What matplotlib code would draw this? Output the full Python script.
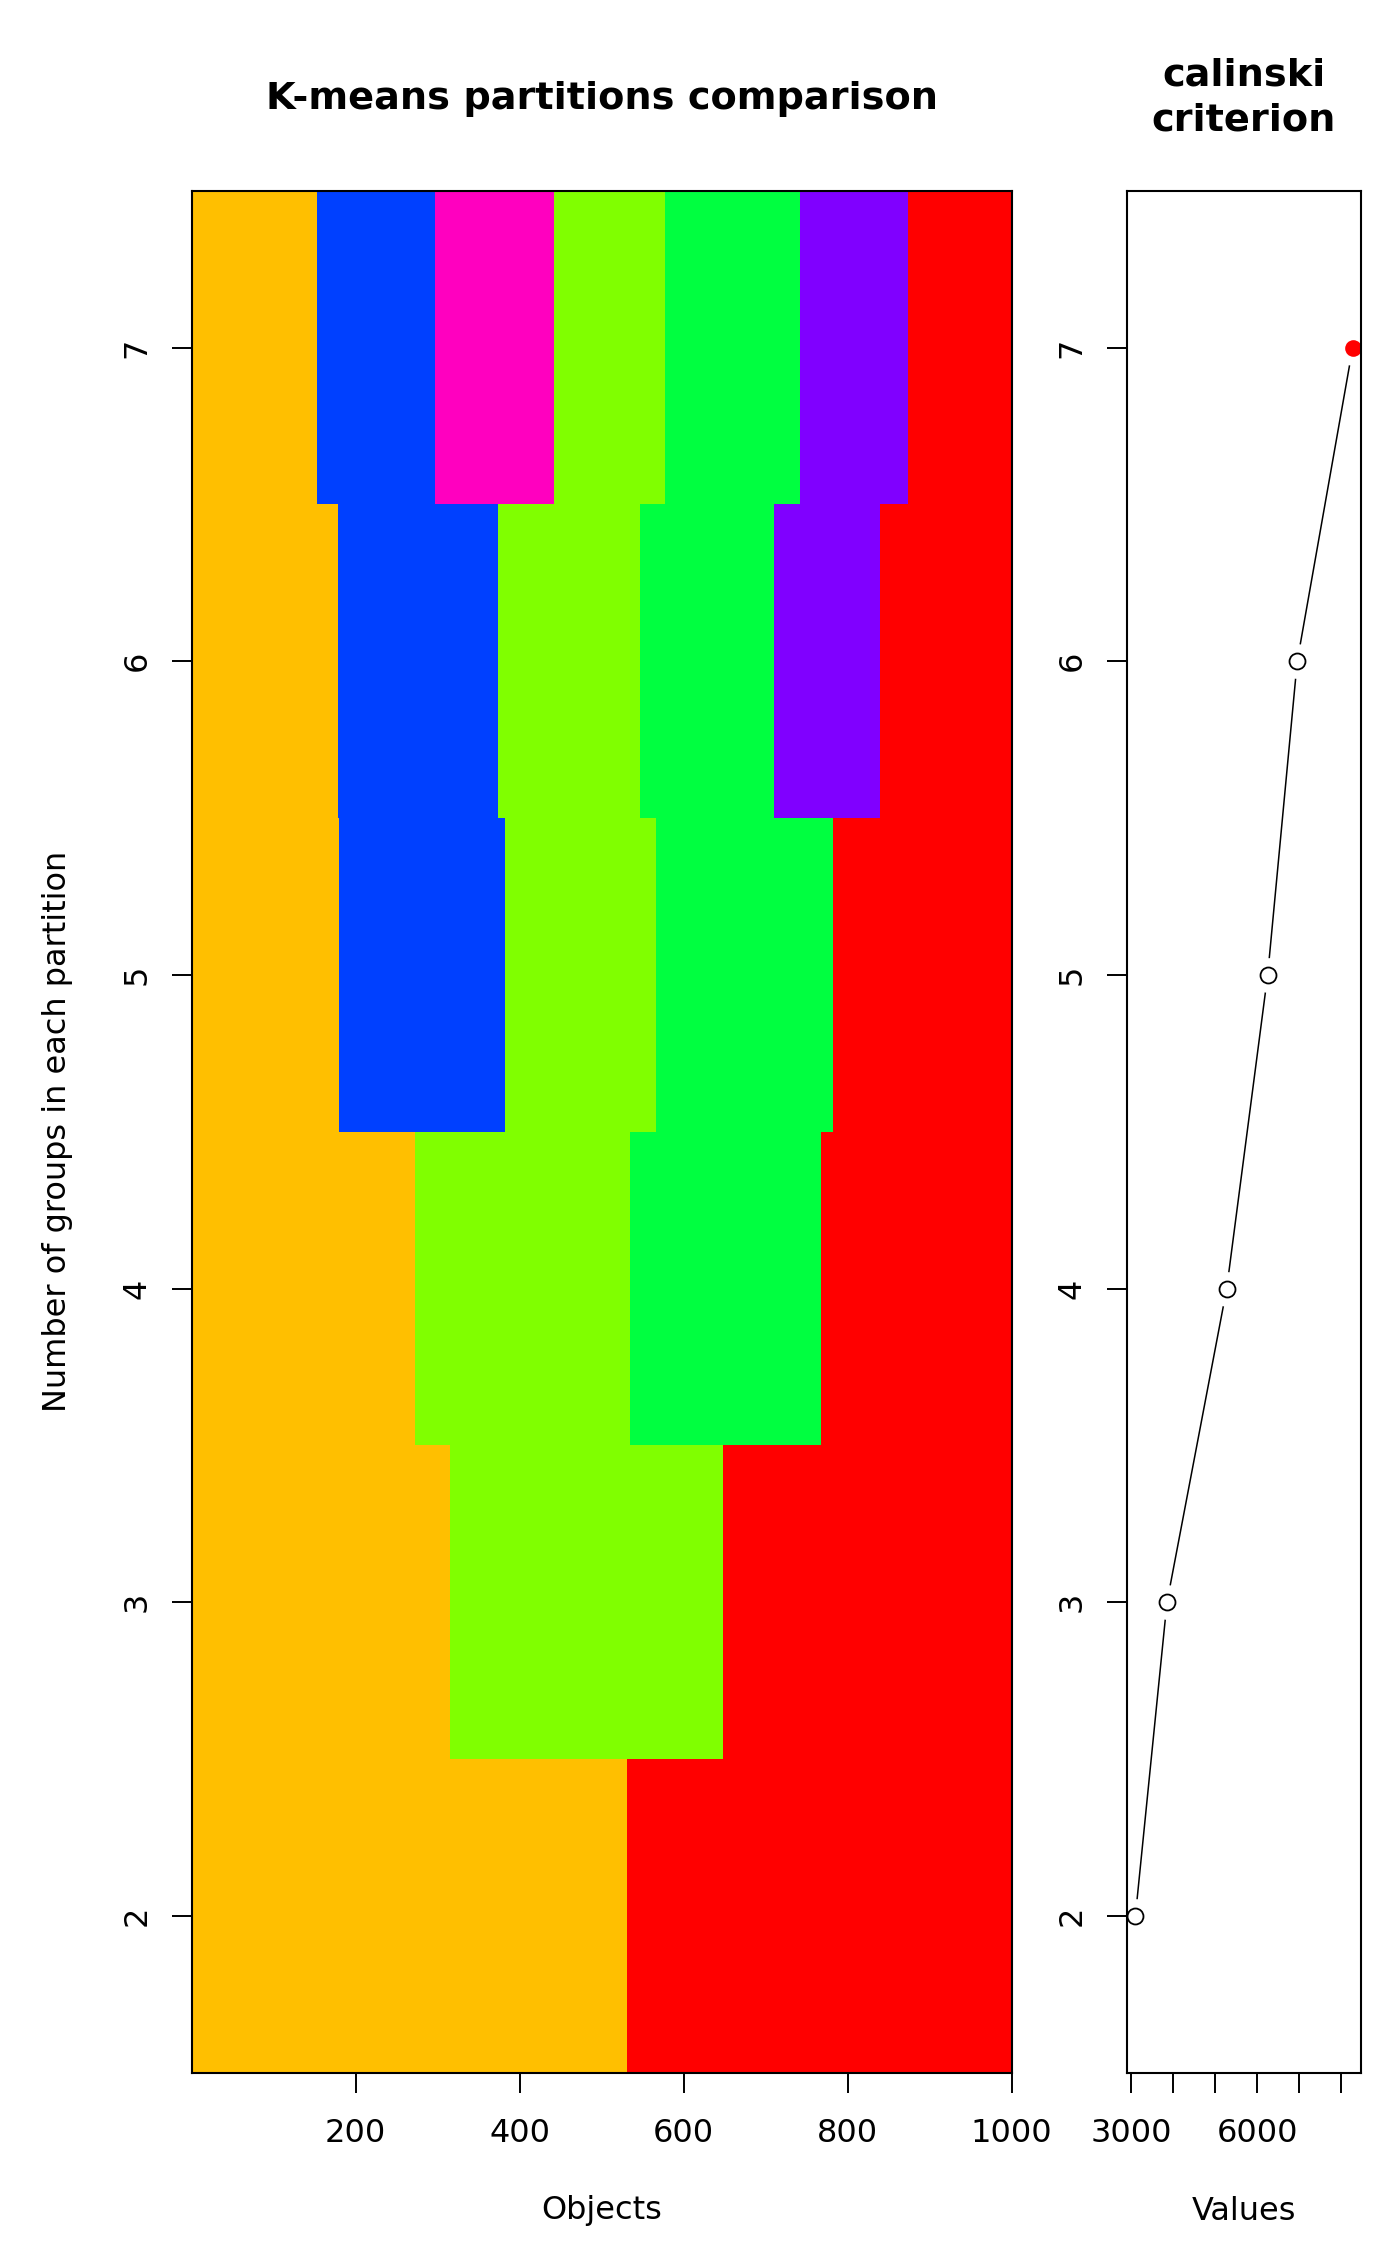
import matplotlib
matplotlib.use("Agg")
import matplotlib.pyplot as plt

plt.rcParams['font.family'] = ['DejaVu Sans']

# partitions: number of groups and the size of each group (left to right)
n_groups = [2, 3, 4, 5, 6, 7]
group_sizes = [
    [531, 469],
    [315, 333, 352],
    [272, 262, 233, 233],
    [179, 203, 184, 216, 218],
    [178, 195, 174, 163, 129, 161],
    [153, 143, 145, 136, 165, 131, 127],
]
group_colors = [
    ['#FFBF00', '#FF0000'],
    ['#FFBF00', '#80FF00', '#FF0000'],
    ['#FFBF00', '#80FF00', '#00FF40', '#FF0000'],
    ['#FFBF00', '#0040FF', '#80FF00', '#00FF40', '#FF0000'],
    ['#FFBF00', '#0040FF', '#80FF00', '#00FF40', '#8000FF', '#FF0000'],
    ['#FFBF00', '#0040FF', '#FF00BF', '#80FF00', '#00FF40', '#8000FF', '#FF0000'],
]
n_objects = 1000

# calinski criterion per partition
calinski = [3099, 3852, 5275, 6252, 6957, 8278]
value_ticks = [3000, 4000, 5000, 6000, 7000, 8000]
value_labels = ['3000', '', '', '6000', '', '']

fig = plt.figure(figsize=(14, 22.66), dpi=100)
ax1 = fig.add_axes([0.1371, 0.0853, 0.5857, 0.8305])
ax2 = fig.add_axes([0.8048, 0.0853, 0.1676, 0.8305])

tick_size = 23
title_size = 27.5

# left panel: one row of bars per partition
for k, sizes, cols in zip(n_groups, group_sizes, group_colors):
    start = 0.5
    for s, c in zip(sizes, cols):
        ax1.barh(k, s, left=start, height=1.0, color=c, edgecolor='none', linewidth=0)
        start += s

ax1.set_xlim(0.5, n_objects + 0.5)
ax1.set_ylim(1.5, 7.5)
ax1.set_xticks([200, 400, 600, 800, 1000])
ax1.set_yticks(n_groups)

# right panel: criterion values, best one in red
ax2.plot(calinski, n_groups, color='black', lw=1.1, zorder=2)
ax2.plot(calinski, n_groups, 'o', color='white', ms=25, mec='none', zorder=2.1)
ax2.plot(calinski[:-1], n_groups[:-1], 'o', mfc='white', mec='black', mew=1.3, ms=11.5, zorder=3)
best = calinski.index(max(calinski))
ax2.plot(calinski[best], n_groups[best], 'o', color='red', ms=12, mec='none', zorder=3)
ax2.margins(x=0.04)
ax2.set_ylim(1.5, 7.5)
ax2.set_yticks(n_groups)
ax2.set_xticks(value_ticks)
ax2.set_xticklabels(value_labels)

for ax in (ax1, ax2):
    for sp in ax.spines.values():
        sp.set_linewidth(1.5)
        sp.set_zorder(5)
    ax.tick_params(direction='out', length=14.4, width=1.4, labelsize=tick_size)
    ax.tick_params(axis='x', pad=18)
    ax.tick_params(axis='y', labelrotation=90, pad=14)
    for lab in ax.get_yticklabels():
        lab.set_verticalalignment('center')

fig.text(0.4299, 1 - 99 / 2266, 'K-means partitions comparison', ha='center', va='center',
         fontsize=title_size, fontweight='bold')
fig.text(0.8886, 1 - 98 / 2266, 'calinski\ncriterion', ha='center', va='center',
         fontsize=title_size, fontweight='bold', linespacing=1.3)
fig.text(0.4299, 1 - 2211 / 2266, 'Objects', ha='center', va='center', fontsize=tick_size)
fig.text(0.8886, 1 - 2211 / 2266, 'Values', ha='center', va='center', fontsize=tick_size)
fig.text(58 / 1400, 1 - 1131 / 2266, 'Number of groups in each partition', ha='center', va='center',
         rotation=90, fontsize=tick_size)

fig.savefig('out.png', dpi=100)
